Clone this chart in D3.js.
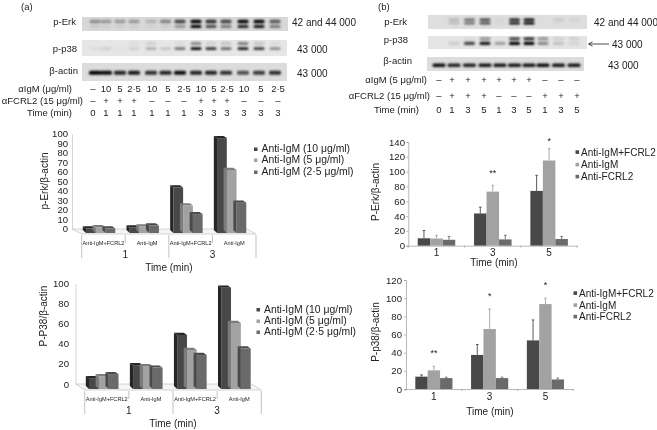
<!DOCTYPE html>
<html><head><meta charset="utf-8">
<script src="https://cdnjs.cloudflare.com/ajax/libs/d3/7.8.5/d3.min.js"></script>
<style>
html,body{margin:0;padding:0;background:#fff}
svg{display:block;filter:blur(0.3px)}
text{font-family:"Liberation Sans",Arial,sans-serif;fill:#222}
</style></head><body>
<svg id="c" width="657" height="430"></svg>
<script>
// ---------- data ----------
const timesA = ["1","3"];
const treatA = ["Anti-IgM+FCRL2","Anti-IgM","Anti-IgM+FCRL2 ","Anti-IgM "];
const doseSeries = ["Anti-IgM (10 μg/ml)","Anti-IgM (5 μg/ml)","Anti-IgM (2·5 μg/ml)"];
const erkDose10 = [3,4,46,98];
const erkDose5 = [4.2,5,27,64.5];
const erkDose25 = [3,6,18,30];
const p38Dose10 = [8,21,51,98];
const p38Dose5 = [10,20,36,63];
const p38Dose25 = [12,18.5,31,37.5];

const timesB = ["1","3","5"];
const treatSeries = ["Anti-IgM+FCRL2","Anti-IgM","Anti-FCRL2"];
const erkCombo = [10,43.5,74];
const erkIgM = [9.7,73,115];
const erkFcrl = [8,8.5,9];
const erkComboTop = [20.5,52,95];
const erkIgMTop = [14,81.5,131];
const erkFcrlTop = [12.5,14,12.5];
const erkStars = ["","**","*"];
const p38Combo = [13.6,37.5,53.5];
const p38IgM = [20.5,66,93.5];
const p38Fcrl = [12,12,10.5];
const p38ComboTop = [15.5,49,76];
const p38IgMTop = [25,88,100];
const p38FcrlTop = [13,13,12];
const p38Stars = ["**","*","*"];

// western blot band intensities, per lane
const aIgM = ["–","10","5","2·5","10","5","2·5","10","5","2·5","10","5","2·5"];
const aFcrl = ["–","+","+","+","–","–","–","+","+","+","–","–","–"];
const aTime = ["0","1","1","1","1","1","1","3","3","3","3","3","3"];
const aErkUpper = [.35,.3,.3,.3,.18,.4,.7,1,.8,.7,1,1,.6];
const aErkLower = [.08,.05,.05,.05,.03,.05,.3,1,.65,.45,.85,.9,.45];
const aP38Upper = [0,0,0,.04,.1,0,.05,.4,.1,.15,.45,.15,.05];
const aP38Lower = [.05,.1,.03,.1,.25,.15,.5,1,.8,.55,.9,.75,.4];
const aActin = [1,.95,.85,.9,.8,.85,.95,.85,.85,.8,.65,.75,.8];

const bIgM = ["–","+","+","+","+","+","+","–","–","–"];
const bFcrl = ["–","+","+","+","–","–","–","+","+","+"];
const bTime = ["0","1","3","5","1","3","5","1","3","5"];
const bErkUpper = [0,.2,.55,.7,.05,.9,1,0,.1,.06];
const bErkLower = [0,.15,.5,.65,.03,.9,1,0,.03,.02];
const bP38Upper = [0,0,.05,.4,0,.8,.9,.4,.1,.1];
const bP38Lower = [0,.1,.7,.9,.3,1,1,.4,.15,.08];
const bActin = [.95,.85,.85,.9,.9,.9,.9,.95,.9,.9];

// ---------- helpers ----------
const svg = d3.select("#c");
const defs = svg.append("defs");
defs.append("filter").attr("id","blur").attr("x","-30%").attr("y","-80%").attr("width","160%").attr("height","260%")
  .append("feGaussianBlur").attr("stdDeviation",0.9);
const COL = ["#484848","#a2a2a2","#6a6a6a"];
const SIDE = ["#262626","#7c7c7c","#4a4a4a"];

function txt(x,y,s,size=9.5,anchor="start",g=svg){
  return g.append("text").attr("x",x).attr("y",y).attr("dy","0.35em")
    .attr("font-size",size).attr("text-anchor",anchor).text(s);
}
function blot(x0,x1,y0,y1,bg,laneX,rows,bw){
  svg.append("rect").attr("x",x0).attr("y",y0).attr("width",x1-x0).attr("height",y1-y0).attr("fill",bg);
  const g = svg.append("g").attr("filter","url(#blur)");
  rows.forEach(r=>{
    g.selectAll(null).data(r.v).join("rect")
      .attr("x",(d,i)=>laneX(i)-bw/2).attr("width",bw)
      .attr("y",r.y-r.h/2).attr("height",r.h).attr("rx",1.5)
      .attr("fill","#000").attr("opacity",d=>Math.min(1,d));
  });
}
function columns(scale,y,vals,size=9.5){
  svg.append("g").selectAll("text").data(vals).join("text")
    .attr("x",(d,i)=>scale(i)).attr("y",y).attr("dy","0.35em")
    .attr("text-anchor","middle").attr("font-size",size).text(d=>d);
}

// ---------- blots (a) ----------
const knotsA=[0,1,3,4,6,7,9,10,12];
const laneA=d3.scaleLinear().domain(knotsA).range([95,106,134,151,180,196,226,243,275]);
const colA=d3.scaleLinear().domain(knotsA).range([93,106,134,152,184,201,227,244,278]);
blot(82,288,17,31,"#d8d8d8",laneA,[{v:aErkUpper,y:21.5,h:3.4},{v:aErkLower,y:26.5,h:3}],11);
blot(82,287,40,56,"#e6e6e6",laneA,[{v:aP38Upper,y:43.5,h:3},{v:aP38Lower,y:48.7,h:2.8}],11);
blot(82,287,63,81,"#dcdcdc",laneA,[{v:aActin,y:72.7,h:4}],12);
txt(21,7,"(a)",9.5);
txt(76,22,"p-Erk",9.5,"end"); txt(77,49,"p-p38",9.5,"end"); txt(78,71,"β-actin",9.5,"end");
txt(292,22,"42 and 44 000",10); txt(297,49,"43 000",10); txt(297,73,"43 000",10);
txt(72,89,"αIgM (μg/ml)",9.5,"end"); txt(83,101,"αFCRL2 (15 μg/ml)",9.5,"end"); txt(72,113,"Time (min)",9.5,"end");
columns(colA,89,aIgM); columns(colA,101,aFcrl); columns(colA,113,aTime);

// ---------- blots (b) ----------
const knotsB=[0,1,3,4,6,7,9];
const laneB=d3.scaleLinear().domain(knotsB).range([439,454,485,500,529,543,574]);
const colB=d3.scaleLinear().domain(knotsB).range([439,452,484,499,529,545,577]);
blot(428,587,15,29,"#dedede",laneB,[{v:bErkUpper,y:19.7,h:2.6},{v:bErkLower,y:23.2,h:2.6}],11);
blot(428,587,36,49,"#e4e4e4",laneB,[{v:bP38Upper,y:38.8,h:2.6},{v:bP38Lower,y:43.3,h:3.2}],11);
blot(427,584,57,71,"#dcdcdc",laneB,[{v:bActin,y:65.3,h:3.6}],13);
txt(378,7,"(b)",9.5);
txt(407,22,"p-Erk",9.5,"end"); txt(408,40,"p-p38",9.5,"end"); txt(412,61,"β-actin",9.5,"end");
txt(594,22,"42 and 44 000",10); txt(612,44,"43 000",10); txt(608,65,"43 000",10);
svg.append("line").attr("x1",589).attr("x2",609).attr("y1",44).attr("y2",44).attr("stroke","#222").attr("stroke-width",.8);
svg.append("path").attr("d","M592.5,41.8L588.5,44L592.5,46.2").attr("fill","none").attr("stroke","#222").attr("stroke-width",.8);
txt(427,80,"αIgM (5 μg/ml)",9.5,"end"); txt(430,96,"αFCRL2 (15 μg/ml)",9.5,"end"); txt(419,110,"Time (min)",9.5,"end");
columns(colB,80,bIgM); columns(colB,96,bFcrl); columns(colB,110,bTime);

// ---------- 3-D style bar charts ----------
function chart3d(o){
  const g=svg.append("g");
  const y=d3.scaleLinear().domain([0,100]).range([o.y0,o.y100]);
  const x=d3.scaleBand().domain(treatA).range([o.x0,o.x1]).paddingInner(o.pad);
  const xs=d3.scaleBand().domain(doseSeries).range([0,x.bandwidth()]);
  // floor
  g.append("path").attr("d",`M${o.axisX},${o.y0}L${o.tl[0]},${o.base+1}L${o.tl[1]},${o.base+1}L${o.x1+1},${o.y0}Z`)
    .attr("fill","#f5f5f5").attr("stroke","#bbb").attr("stroke-width",.6);
  // y axis
  const ax=g.append("g").attr("transform",`translate(${o.axisX},0)`)
    .call(d3.axisLeft(y).tickValues(d3.range(0,101,o.step)).tickSize(0).tickPadding(o.axisX-o.lab));
  ax.select(".domain").attr("stroke","#c4c4c4").attr("stroke-width",.7);
  ax.selectAll("text").attr("font-size",o.tickSize).attr("font-family",'"Liberation Sans"').attr("fill","#222")
    .each(function(){
      if(o.tickStretch) d3.select(this).attr("textLength",this.textContent.length*o.tickStretch).attr("lengthAdjust","spacingAndGlyphs");
    });
  // bars
  const dx=3.2,df=2.2;
  treatA.forEach((t,i)=>{
    o.series.forEach((s,k)=>{
      const X=x(t)+xs(doseSeries[k]),w=xs.bandwidth(),T=y(s[i]),F=T+df;
      g.append("path").attr("d",`M${X},${F}L${X-dx},${T}L${X-dx},${o.base-3}L${X},${o.base}Z`).attr("fill",SIDE[k]);
      g.append("path").attr("d",`M${X},${F}L${X-dx},${T}L${X+w-dx},${T}L${X+w},${F}Z`).attr("fill",SIDE[k]);
      g.append("rect").attr("x",X).attr("y",F).attr("width",w).attr("height",o.base-F).attr("fill",COL[k]);
    });
  });
  // multi-level category table
  const edges=d3.range(0,5).map(i=>o.tl[0]+i*(o.tl[1]-o.tl[0])/4);
  edges.forEach((e,i)=>{
    g.append("line").attr("x1",e).attr("x2",e).attr("y1",o.base+2)
     .attr("y2",i%2?o.base+10:o.base+25).attr("stroke","#a8a8a8").attr("stroke-width",.7);
  });
  treatA.forEach((t,i)=>txt((edges[i]+edges[i+1])/2,o.base+10,t.trim(),5.6,"middle",g));
  timesA.forEach((t,i)=>txt(edges[i*2+1],o.base+21,t,10,"middle",g));
  txt(edges[2],o.base+34.5,"Time (min)",10,"middle",g);
  g.append("text").attr("transform",`translate(${o.titleX},${o.titleY}) rotate(-90)`).attr("text-anchor","middle")
    .attr("dy","0.35em").attr("font-size",10).text(o.title);
  // legend
  doseSeries.forEach((s,k)=>{
    const ly=o.legY[k];
    g.append("rect").attr("x",o.legX).attr("y",ly-1.5).attr("width",3.5).attr("height",3.5).attr("fill",COL[k]);
    txt(o.legX+7.5,ly-.5,s,10.4,"start",g);
  });
}
chart3d({series:[erkDose10,erkDose5,erkDose25],x0:86,x1:246.3,pad:.33,y0:229,y100:134,base:233,axisX:72,lab:68,
  tickSize:8.2,tickStretch:5.3,step:10,tl:[81.7,256],title:"p-Erk/β-actin",titleX:44,titleY:181,legX:254,legY:[149,160,172]});
chart3d({series:[p38Dose10,p38Dose5,p38Dose25],x0:89,x1:250.7,pad:.33,y0:384,y100:283.5,base:389,axisX:75.5,lab:69,
  tickSize:9.6,step:20,tl:[84.7,261.3],title:"P-P38/β-actin",titleX:43,titleY:316,legX:256.5,legY:[309.5,321,332]});

// ---------- flat bar charts with error bars ----------
function chartFlat(o){
  const g=svg.append("g");
  const y=d3.scaleLinear().domain([0,o.max]).range([o.y0,o.yMax]);
  const x=d3.scaleBand().domain(timesB).range([o.x0,o.x1]).paddingInner(.334).paddingOuter(.167);
  const xs=d3.scaleBand().domain(treatSeries).range([0,x.bandwidth()]);
  o.series.forEach((s,k)=>{
    g.selectAll(null).data(s).join("rect")
      .attr("x",(d,i)=>x(timesB[i])+xs(treatSeries[k]))
      .attr("width",xs.bandwidth()).attr("y",d=>y(d)).attr("height",d=>o.y0-y(d)).attr("fill",COL[k]);
    g.selectAll(null).data(o.tops[k]).join("path")
      .attr("d",(d,i)=>{
        const c=x(timesB[i])+xs(treatSeries[k])+xs.bandwidth()/2;
        return `M${c},${y(s[i])}L${c},${y(d)}M${c-1.3},${y(d)}L${c+1.3},${y(d)}`;
      }).attr("stroke",COL[k]).attr("fill","none").attr("stroke-width",.9);
  });
  const ax=g.append("g").attr("transform",`translate(${o.x0},0)`)
    .call(d3.axisLeft(y).tickValues(d3.range(0,o.max+1,20)).tickSize(2).tickPadding(o.x0-o.lab-2));
  ax.select(".domain").attr("stroke","#999").attr("stroke-width",.7);
  ax.selectAll("line").attr("stroke","#999").attr("stroke-width",.7);
  ax.selectAll("text").attr("font-size",9.6).attr("font-family",'"Liberation Sans"').attr("fill","#222");
  const bx=g.append("g").attr("transform",`translate(0,${o.y0})`).call(d3.axisBottom(x).tickSize(0).tickPadding(o.catDy));
  bx.select(".domain").attr("stroke","#999").attr("stroke-width",.7);
  bx.selectAll("text").attr("font-size",10).attr("font-family",'"Liberation Sans"').attr("fill","#222");
  d3.range(0,4).forEach(i=>{
    const e=o.x0+i*(o.x1-o.x0)/3;
    g.append("line").attr("x1",e).attr("x2",e).attr("y1",o.y0).attr("y2",o.y0+2).attr("stroke","#999").attr("stroke-width",.7);
  });
  o.stars.forEach((s,i)=>{ if(s) txt(x(timesB[i])+x.bandwidth()/2+o.starDx,y(o.starV[i]),s,9,"middle",g); });
  txt(o.timeX,o.timeY,"Time (min)",10,"middle",g);
  g.append("text").attr("transform",`translate(${o.titleX},${o.titleY}) rotate(-90)`).attr("text-anchor","middle")
    .attr("dy","0.35em").attr("font-size",10).text(o.title);
  treatSeries.forEach((s,k)=>{
    const ly=o.legY[k];
    g.append("rect").attr("x",o.legX).attr("y",ly-1.7).attr("width",3.6).attr("height",3.6).attr("fill",COL[k]);
    txt(o.legX+5.5,ly,s,10,"start",g);
  });
}
chartFlat({series:[erkCombo,erkIgM,erkFcrl],tops:[erkComboTop,erkIgMTop,erkFcrlTop],stars:erkStars,starV:[0,99,142],starDx:0,
  max:140,x0:408.3,x1:577.3,y0:245.7,yMax:142,lab:405,catDy:3,timeX:494,timeY:262,title:"P-Erk/β-actin",titleX:375,titleY:192,
  legX:575.5,legY:[152,164.5,176.5]});
chartFlat({series:[p38Combo,p38IgM,p38Fcrl],tops:[p38ComboTop,p38IgMTop,p38FcrlTop],stars:p38Stars,starV:[40,103,115],starDx:0,
  max:120,x0:406,x1:573.3,y0:389,yMax:280,lab:402,catDy:4,timeX:490,timeY:411,title:"P-p38/β-actin",titleX:375,titleY:332,
  legX:573.5,legY:[293,305,316.5]});
</script>
</body></html>
